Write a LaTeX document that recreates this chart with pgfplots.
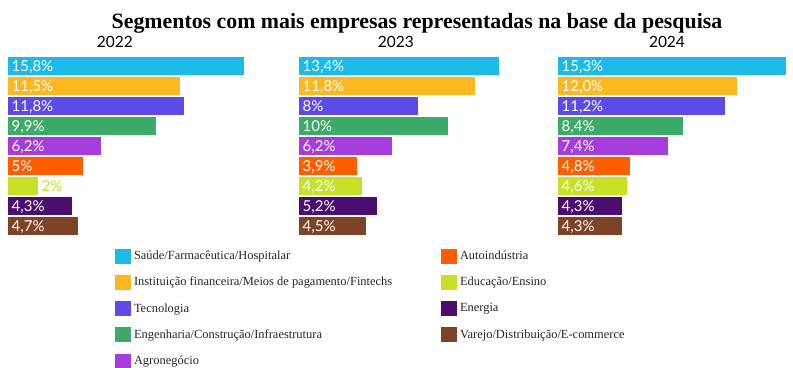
\documentclass[border=0pt]{standalone}
\usepackage{pgfplots}
\pgfplotsset{compat=1.18}
\usepackage{fontspec}
\setmainfont{Lato}
\newfontfamily\legfont{Liberation Serif}
\newfontfamily\titfont{Liberation Serif}
\definecolor{cSau}{RGB}{29,186,233}
\definecolor{cIns}{RGB}{251,184,32}
\definecolor{cTec}{RGB}{94,74,231}
\definecolor{cEng}{RGB}{60,170,104}
\definecolor{cAgr}{RGB}{166,60,220}
\definecolor{cAut}{RGB}{255,94,0}
\definecolor{cEdu}{RGB}{200,224,38}
\definecolor{cEne}{RGB}{74,14,112}
\definecolor{cVar}{RGB}{126,66,38}
\pgfplotsset{
  panel/.style={scale only axis, width=231.4bp, height=180bp,
    xmin=0, xmax=15.5, ymin=-0.5, ymax=8.5, y dir=reverse,
    axis lines=none, xtick=\empty, ytick=\empty,
    anchor=south west, clip=false,
    title style={anchor=base, yshift=3bp, inner sep=0pt,
      font=\fontsize{15.5bp}{18bp}\selectfont, text=black}},
  bb/.style={xbar, bar shift=0pt, bar width=18bp, draw=none, fill=#1},
  lab/.style={draw=none, mark=none, point meta=explicit symbolic, nodes near coords,
    nodes near coords style={anchor=base west, xshift=3.5bp, yshift=-5.4bp, inner sep=0pt,
      font=\fontsize{15bp}{18bp}\selectfont, text=#1}},
  legendaxis/.style={scale only axis, width=1bp, height=1bp,
    xmin=0, xmax=1, ymin=0, ymax=1,
    axis lines=none, xtick=\empty, ytick=\empty, anchor=north west,
    legend style={at={(0,1)}, anchor=north west, draw=none, fill=none,
      inner sep=0pt, outer sep=0pt, row sep=10.75bp, column sep=3bp,
      nodes={inner sep=0pt, font=\legfont\fontsize{12.45bp}{14bp}\selectfont, text=black!85}},
    legend cell align=left,
    legend image code/.code={\fill[##1, draw=none] (0bp,-7.5bp) rectangle (16bp,7.5bp);}},
}
\begin{document}
\begin{tikzpicture}
\useasboundingbox (0,0) rectangle (793bp,368bp);
\node[font=\titfont\bfseries\fontsize{21.85bp}{26bp}\selectfont, anchor=base, text=black]
  at (417bp,339.7bp) {Segmentos com mais empresas representadas na base da pesquisa};

% 2022
\begin{axis}[panel, at={(8bp,132bp)}, title=2022, title style={at={(axis description cs:0.462,1)}}]
\addplot[bb=cSau] coordinates {(15.8,0)};
\addplot[bb=cIns] coordinates {(11.5,1)};
\addplot[bb=cTec] coordinates {(11.8,2)};
\addplot[bb=cEng] coordinates {(9.9,3)};
\addplot[bb=cAgr] coordinates {(6.2,4)};
\addplot[bb=cAut] coordinates {(5,5)};
\addplot[bb=cEdu] coordinates {(2,6)};
\addplot[bb=cEne] coordinates {(4.3,7)};
\addplot[bb=cVar] coordinates {(4.7,8)};
\addplot[lab=white] coordinates {(0,0)[15,8\%] (0,1)[11,5\%] (0,2)[11,8\%] (0,3)[9,9\%] (0,4)[6,2\%] (0,5)[5\%] (0,7)[4,3\%] (0,8)[4,7\%]};
\addplot[lab=cEdu] coordinates {(2,6)[2\%]};
\end{axis}

% 2023
\begin{axis}[panel, at={(299bp,132bp)}, title=2023, title style={at={(axis description cs:0.419,1)}}]
\addplot[bb=cSau] coordinates {(13.4,0)};
\addplot[bb=cIns] coordinates {(11.8,1)};
\addplot[bb=cTec] coordinates {(8,2)};
\addplot[bb=cEng] coordinates {(10,3)};
\addplot[bb=cAgr] coordinates {(6.2,4)};
\addplot[bb=cAut] coordinates {(3.9,5)};
\addplot[bb=cEdu] coordinates {(4.2,6)};
\addplot[bb=cEne] coordinates {(5.2,7)};
\addplot[bb=cVar] coordinates {(4.5,8)};
\addplot[lab=white] coordinates {(0,0)[13,4\%] (0,1)[11,8\%] (0,2)[8\%] (0,3)[10\%] (0,4)[6,2\%] (0,5)[3,9\%] (0,6)[4,2\%] (0,7)[5,2\%] (0,8)[4,5\%]};
\end{axis}

% 2024
\begin{axis}[panel, at={(558bp,132bp)}, title=2024, title style={at={(axis description cs:0.471,1)}}]
\addplot[bb=cSau] coordinates {(15.3,0)};
\addplot[bb=cIns] coordinates {(12.0,1)};
\addplot[bb=cTec] coordinates {(11.2,2)};
\addplot[bb=cEng] coordinates {(8.4,3)};
\addplot[bb=cAgr] coordinates {(7.4,4)};
\addplot[bb=cAut] coordinates {(4.8,5)};
\addplot[bb=cEdu] coordinates {(4.6,6)};
\addplot[bb=cEne] coordinates {(4.3,7)};
\addplot[bb=cVar] coordinates {(4.3,8)};
\addplot[lab=white] coordinates {(0,0)[15,3\%] (0,1)[12,0\%] (0,2)[11,2\%] (0,3)[8,4\%] (0,4)[7,4\%] (0,5)[4,8\%] (0,6)[4,6\%] (0,7)[4,3\%] (0,8)[4,3\%]};
\end{axis}

% legend, left column
\begin{axis}[legendaxis, at={(115bp,119.5bp)}, legend style={row sep=11.25bp}]
\addlegendimage{fill=cSau}\addlegendentry{Saúde/Farmacêutica/Hospitalar}
\addlegendimage{fill=cIns}\addlegendentry{Instituição financeira/Meios de pagamento/Fintechs}
\addlegendimage{fill=cTec}\addlegendentry{Tecnologia}
\addlegendimage{fill=cEng}\addlegendentry{Engenharia/Construção/Infraestrutura}
\addlegendimage{fill=cAgr}\addlegendentry{Agronegócio}
\end{axis}

% legend, right column
\begin{axis}[legendaxis, at={(441bp,119.5bp)}, legend style={row sep=11.25bp}]
\addlegendimage{fill=cAut}\addlegendentry{Autoindústria}
\addlegendimage{fill=cEdu}\addlegendentry{Educação/Ensino}
\addlegendimage{fill=cEne}\addlegendentry{Energia}
\addlegendimage{fill=cVar}\addlegendentry{Varejo/Distribuição/E-commerce}
\end{axis}
\end{tikzpicture}
\end{document}
